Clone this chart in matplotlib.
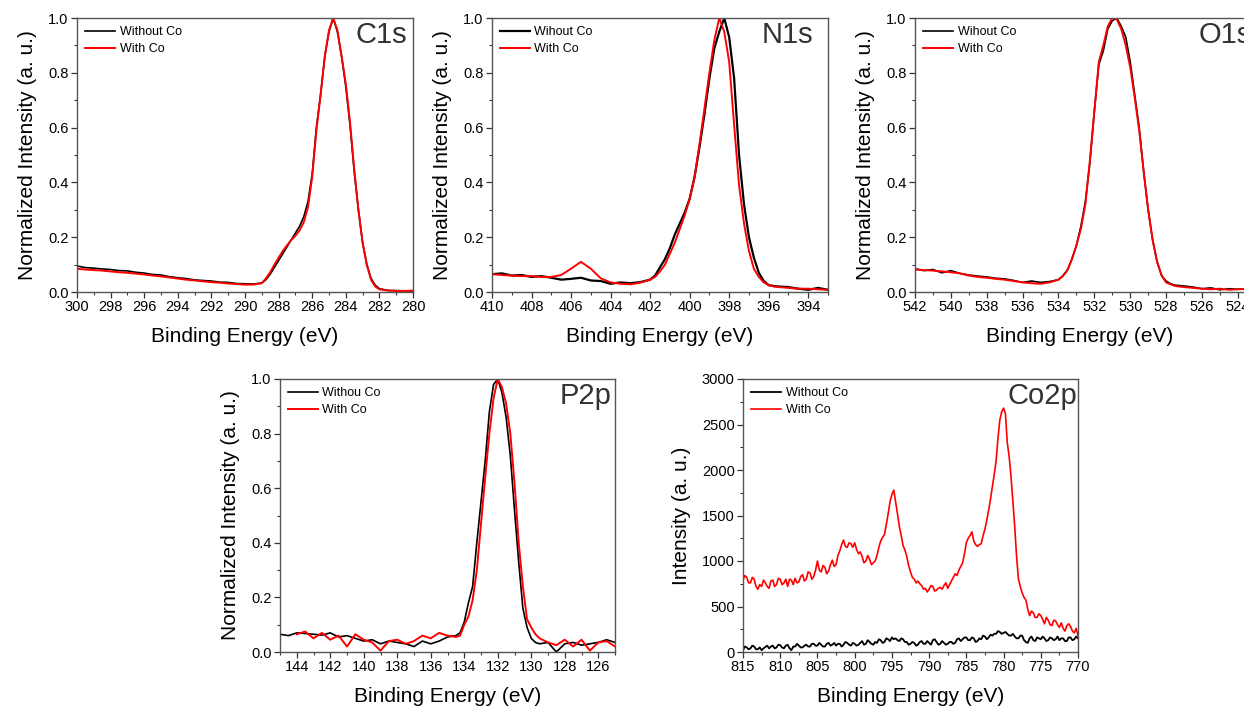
import numpy as np
import matplotlib
matplotlib.use("Agg")
import matplotlib.pyplot as plt
from matplotlib.ticker import MultipleLocator

plt.rcParams['font.family'] = ['Liberation Sans', 'DejaVu Sans']

# ---------------- C1s ----------------
c1s_be = [300, 299.5, 299, 298.5, 298, 297.5, 297, 296.5, 296, 295.5, 295, 294.5, 294, 293.5,
          293, 292.5, 292, 291.5, 291, 290.5, 290, 289.5, 289,
          288.75, 288.5, 288.25, 288, 287.75, 287.5, 287.25, 287, 286.75, 286.5, 286.25, 286,
          285.75, 285.5, 285.25, 285, 284.75, 284.5, 284.25, 284, 283.75, 283.5, 283.25, 283,
          282.75, 282.5, 282.25, 282,
          281.5, 281, 280.5, 280]
c1s_without = [0.095, 0.089, 0.087, 0.084, 0.082, 0.078, 0.077, 0.072, 0.069, 0.064, 0.062, 0.056, 0.052, 0.049,
               0.044, 0.042, 0.040, 0.036, 0.035, 0.031, 0.030, 0.029, 0.033,
               0.045, 0.065, 0.090, 0.115, 0.140, 0.165, 0.190, 0.215, 0.240, 0.275, 0.330, 0.430,
               0.600, 0.720, 0.860, 0.950, 1.000, 0.950, 0.860, 0.750, 0.610, 0.440, 0.300, 0.180,
               0.100, 0.050, 0.025, 0.012,
               0.006, 0.005, 0.004, 0.004]
c1s_with = [0.085, 0.082, 0.080, 0.078, 0.075, 0.072, 0.070, 0.067, 0.064, 0.060, 0.057, 0.053, 0.049, 0.045,
            0.042, 0.039, 0.036, 0.034, 0.031, 0.029, 0.027, 0.027, 0.032,
            0.050, 0.072, 0.100, 0.125, 0.150, 0.170, 0.190, 0.205, 0.225, 0.255, 0.310, 0.420,
            0.590, 0.720, 0.860, 0.955, 1.000, 0.955, 0.860, 0.760, 0.620, 0.450, 0.300, 0.180,
            0.100, 0.045, 0.020, 0.010,
            0.005, 0.004, 0.004, 0.005]

# ---------------- N1s ----------------
n1s_be = [410, 409.5, 409, 408.5, 408, 407.5, 407, 406.5, 406, 405.5, 405, 404.5, 404, 403.5, 403, 402.5,
          402, 401.75, 401.5, 401.25, 401, 400.75, 400.5, 400.25, 400, 399.75, 399.5, 399.25, 399,
          398.75, 398.5, 398.25, 398, 397.75, 397.5, 397.25, 397, 396.75, 396.5, 396.25, 396, 395.75, 395.5,
          395, 394.5, 394, 393.5, 393]
n1s_without = [0.065, 0.068, 0.060, 0.062, 0.055, 0.058, 0.052, 0.045, 0.048, 0.052, 0.042, 0.040, 0.030, 0.035, 0.032, 0.036,
               0.045, 0.060, 0.090, 0.120, 0.160, 0.210, 0.250, 0.290, 0.340, 0.420, 0.530, 0.650, 0.780,
               0.890, 0.950, 1.000, 0.930, 0.780, 0.500, 0.320, 0.200, 0.125, 0.070, 0.040, 0.025, 0.022, 0.020,
               0.018, 0.012, 0.008, 0.015, 0.008]
n1s_with = [0.065, 0.062, 0.060, 0.058, 0.058, 0.055, 0.055, 0.062, 0.085, 0.110, 0.085, 0.050, 0.035, 0.030, 0.028, 0.034,
            0.045, 0.055, 0.075, 0.100, 0.140, 0.180, 0.230, 0.280, 0.340, 0.420, 0.540, 0.670, 0.800,
            0.920, 1.000, 0.950, 0.840, 0.610, 0.390, 0.250, 0.150, 0.085, 0.055, 0.035, 0.025, 0.020, 0.018,
            0.015, 0.012, 0.012, 0.010, 0.008]

# ---------------- O1s ----------------
o1s_be = [542, 541.5, 541, 540.5, 540, 539.5, 539, 538.5, 538, 537.5, 537, 536.5, 536, 535.5, 535, 534.5,
          534, 533.75, 533.5, 533.25, 533, 532.75, 532.5, 532.25, 532, 531.75, 531.5, 531.25, 531,
          530.75, 530.5, 530.25, 530, 529.75, 529.5, 529.25, 529, 528.75, 528.5, 528.25, 528, 527.75, 527.5,
          527, 526.5, 526, 525.5, 525, 524.5, 524, 523.5]
o1s_without = [0.085, 0.078, 0.082, 0.070, 0.078, 0.068, 0.062, 0.058, 0.055, 0.050, 0.048, 0.042, 0.035, 0.040, 0.035, 0.038,
               0.045, 0.060, 0.080, 0.120, 0.170, 0.240, 0.330, 0.470, 0.660, 0.830, 0.880, 0.960, 0.990,
               1.000, 0.970, 0.930, 0.840, 0.720, 0.600, 0.440, 0.300, 0.190, 0.110, 0.060, 0.040, 0.030, 0.025,
               0.022, 0.018, 0.012, 0.015, 0.008, 0.012, 0.010, 0.012]
o1s_with = [0.082, 0.080, 0.078, 0.075, 0.072, 0.068, 0.060, 0.055, 0.052, 0.048, 0.045, 0.040, 0.035, 0.032, 0.030, 0.035,
            0.045, 0.058, 0.080, 0.120, 0.170, 0.230, 0.320, 0.480, 0.660, 0.840, 0.900, 0.970, 1.000,
            0.995, 0.960, 0.900, 0.820, 0.710, 0.590, 0.440, 0.300, 0.190, 0.110, 0.060, 0.035, 0.028, 0.022,
            0.018, 0.015, 0.012, 0.010, 0.012, 0.008, 0.010, 0.012]

# ---------------- P2p ----------------
p2p_be = [145, 144.5, 144, 143.5, 143, 142.5, 142, 141.5, 141, 140.5, 140, 139.5, 139, 138.5, 138, 137.5,
          137, 136.5, 136, 135.5, 135, 134.5,
          134.25, 134, 133.75, 133.5, 133.25, 133, 132.75, 132.5, 132.25, 132, 131.75, 131.5, 131.25, 131,
          130.75, 130.5, 130.25, 130, 129.75, 129.5,
          129, 128.5, 128, 127.5, 127, 126.5, 126, 125.5, 125]
p2p_without = [0.065, 0.060, 0.070, 0.068, 0.065, 0.062, 0.070, 0.055, 0.060, 0.050, 0.040, 0.045, 0.030, 0.040, 0.035, 0.030,
               0.020, 0.040, 0.030, 0.040, 0.055, 0.060,
               0.070, 0.110, 0.180, 0.240, 0.400, 0.550, 0.700, 0.880, 0.980, 1.000, 0.950, 0.860, 0.720, 0.520,
               0.330, 0.160, 0.090, 0.050, 0.035, 0.030,
               0.035, 0.000, 0.030, 0.035, 0.025, 0.030, 0.035, 0.045, 0.035]
p2p_with = [np.nan, np.nan, 0.065, 0.075, 0.050, 0.070, 0.045, 0.060, 0.020, 0.065, 0.045, 0.035, 0.005, 0.040, 0.045, 0.030,
            0.040, 0.060, 0.050, 0.070, 0.060, 0.055,
            0.060, 0.100, 0.130, 0.190, 0.300, 0.470, 0.640, 0.800, 0.930, 1.000, 0.970, 0.910, 0.800, 0.620,
            0.400, 0.240, 0.120, 0.090, 0.065, 0.050,
            0.035, 0.025, 0.045, 0.020, 0.045, 0.005, 0.035, 0.040, 0.020]

# ---------------- Co2p ----------------
co2p_be = [815, 814.75, 814.5, 814.25, 814, 813.75, 813.5, 813.25,
           813, 812.75, 812.5, 812.25, 812, 811.75, 811.5, 811.25,
           811, 810.75, 810.5, 810.25, 810, 809.75, 809.5, 809.25,
           809, 808.75, 808.5, 808.25, 808, 807.75, 807.5, 807.25,
           807, 806.75, 806.5, 806.25, 806, 805.75, 805.5, 805.25,
           805, 804.75, 804.5, 804.25, 804, 803.75, 803.5, 803.25,
           803, 802.75, 802.5, 802.25, 802, 801.75, 801.5, 801.25,
           801, 800.75, 800.5, 800.25, 800, 799.75, 799.5, 799.25,
           799, 798.75, 798.5, 798.25, 798, 797.75, 797.5, 797.25,
           797, 796.75, 796.5, 796.25, 796, 795.75, 795.5, 795.25,
           795, 794.75, 794.5, 794.25, 794, 793.75, 793.5, 793.25,
           793, 792.75, 792.5, 792.25, 792, 791.75, 791.5, 791.25,
           791, 790.75, 790.5, 790.25, 790, 789.75, 789.5, 789.25,
           789, 788.75, 788.5, 788.25, 788, 787.75, 787.5, 787.25,
           787, 786.75, 786.5, 786.25, 786, 785.75, 785.5, 785.25,
           785, 784.75, 784.5, 784.25, 784, 783.75, 783.5, 783.25,
           783, 782.75, 782.5, 782.25, 782, 781.75, 781.5, 781.25,
           781, 780.75, 780.5, 780.25, 780, 779.75, 779.5, 779.25,
           779, 778.75, 778.5, 778.25, 778, 777.75, 777.5, 777.25,
           777, 776.75, 776.5, 776.25, 776, 775.75, 775.5, 775.25,
           775, 774.75, 774.5, 774.25, 774, 773.75, 773.5, 773.25,
           773, 772.75, 772.5, 772.25, 772, 771.75, 771.5, 771.25,
           771, 770.75, 770.5, 770.25, 770]
co2p_without = [20, 60, 50, 30, 40, 70, 60, 30,
                30, 50, 20, 40, 55, 70, 40, 60,
                70, 40, 50, 80, 75, 50, 40, 70,
                80, 40, 20, 60, 60, 90, 70, 50,
                50, 70, 80, 60, 60, 90, 90, 70,
                70, 100, 80, 60, 60, 90, 100, 70,
                80, 100, 70, 90, 90, 60, 80, 110,
                100, 80, 70, 100, 90, 70, 80, 100,
                120, 80, 90, 130, 110, 90, 80, 110,
                100, 140, 130, 100, 110, 150, 140, 120,
                160, 140, 150, 130, 120, 150, 140, 110,
                110, 80, 90, 110, 100, 70, 80, 110,
                120, 90, 90, 120, 100, 80, 130, 140,
                110, 80, 90, 120, 100, 80, 90, 110,
                110, 90, 100, 140, 150, 120, 140, 160,
                160, 130, 130, 160, 150, 110, 120, 150,
                140, 180, 170, 140, 160, 190, 180, 200,
                200, 230, 220, 200, 210, 220, 200, 180,
                180, 200, 170, 150, 150, 180, 180, 130,
                110, 100, 150, 170, 130, 120, 160, 150,
                140, 170, 150, 120, 130, 160, 150, 130,
                140, 170, 130, 150, 150, 120, 120, 160,
                160, 130, 140, 170, 150]
co2p_with = [790, 840, 820, 760, 760, 820, 800, 720,
             690, 740, 720, 790, 760, 720, 700, 780,
             790, 720, 740, 810, 800, 740, 760, 800,
             720, 800, 790, 740, 810, 760, 770, 830,
             850, 780, 800, 880, 870, 800, 830, 900,
             1000, 900, 880, 950, 930, 860, 890, 960,
             1010, 940, 960, 1060, 1110, 1180, 1230, 1160,
             1150, 1200, 1190, 1150, 1200, 1130, 1080, 1100,
             1050, 980, 1000, 1060, 1020, 960, 980, 1000,
             1060, 1150, 1220, 1260, 1290, 1400, 1520, 1650,
             1730, 1780, 1650, 1520, 1380, 1280, 1170, 1120,
             1050, 950, 880, 820, 800, 760, 780, 750,
             730, 690, 700, 660, 690, 730, 720, 670,
             680, 700, 710, 690, 730, 760, 700, 740,
             780, 820, 860, 840, 900, 940, 980, 1080,
             1200, 1250, 1280, 1320, 1220, 1180, 1160, 1180,
             1190, 1280, 1350, 1450, 1560, 1680, 1820, 1950,
             2100, 2350, 2550, 2640, 2680, 2620, 2300, 2150,
             1930, 1650, 1380, 1050, 800, 720, 650, 600,
             570, 470, 400, 450, 430, 380, 380, 420,
             400, 360, 310, 380, 350, 300, 290, 350,
             340, 300, 270, 320, 260, 230, 290, 310,
             280, 230, 210, 260, 180]

panels = [
    dict(name="C1s", be=c1s_be, a=c1s_without, b=c1s_with, la="Without Co", xlim=(300, 280),
         ylim=(0, 1.0), xmaj=2, ymaj=0.2, ylabel="Normalized Intensity (a. u.)",
         rect=[77, 18, 413, 292], tx=0.982),
    dict(name="N1s", be=n1s_be, a=n1s_without, b=n1s_with, la="Wihout Co", xlim=(410, 393),
         ylim=(0, 1.0), xmaj=2, ymaj=0.2, ylabel="Normalized Intensity (a. u.)",
         rect=[492, 18, 828, 292], tx=0.955),
    dict(name="O1s", be=o1s_be, a=o1s_without, b=o1s_with, la="Wihout Co", xlim=(542, 523.6),
         ylim=(0, 1.0), xmaj=2, ymaj=0.2, ylabel="Normalized Intensity (a. u.)",
         rect=[915, 18, 1245, 292], tx=1.02),
    dict(name="P2p", be=p2p_be, a=p2p_without, b=p2p_with, la="Withou Co", xlim=(145, 125),
         ylim=(0, 1.0), xmaj=2, ymaj=0.2, ylabel="Normalized Intensity (a. u.)",
         rect=[280, 379, 615, 652], tx=0.991),
    dict(name="Co2p", be=co2p_be, a=co2p_without, b=co2p_with, la="Without Co", xlim=(815, 770),
         ylim=(0, 3000), xmaj=5, ymaj=500, ylabel="Intensity (a. u.)",
         rect=[743, 379, 1078, 652], tx=0.997),
]

W, H = 1244, 707
fig = plt.figure(figsize=(W / 100, H / 100), dpi=100)
fig.patch.set_facecolor("white")

for p in panels:
    x0, y0, x1, y1 = p["rect"]
    ax = fig.add_axes([x0 / W, 1 - y1 / H, (x1 - x0) / W, (y1 - y0) / H])
    lwa = 1.6 if p["name"] == "N1s" else (1.3 if p["name"] == "Co2p" else 1.2)
    lwb = 1.2 if p["name"] == "Co2p" else 1.4
    ax.plot(p["be"], p["a"], color="black", lw=lwa, label=p["la"])
    ax.plot(p["be"], p["b"], color="#ff0000", lw=lwb, label="With Co")
    ax.set_xlim(*p["xlim"])
    ax.set_ylim(*p["ylim"])
    ax.xaxis.set_major_locator(MultipleLocator(p["xmaj"]))
    ax.xaxis.set_minor_locator(MultipleLocator(p["xmaj"] / 2))
    ax.yaxis.set_major_locator(MultipleLocator(p["ymaj"]))
    ax.yaxis.set_minor_locator(MultipleLocator(p["ymaj"] / 2))
    if p["ymaj"] < 1:
        ax.yaxis.set_major_formatter(matplotlib.ticker.FormatStrFormatter("%.1f"))
    ax.tick_params(which="major", direction="out", length=4, width=0.9, labelsize=10.5,
                   colors="#333333", labelcolor="black", pad=2)
    ax.tick_params(which="minor", direction="out", length=2.5, width=0.8, colors="#333333")
    for s in ax.spines.values():
        s.set_color("#555555")
        s.set_linewidth(1.0)
    ax.set_xlabel("Binding Energy (eV)", fontsize=15, labelpad=9)
    ax.set_ylabel(p["ylabel"], fontsize=15, labelpad=8)
    ax.text(p["tx"], 0.91, p["name"], transform=ax.transAxes, ha="right", va="baseline",
            fontsize=21, color="#333333", clip_on=False)
    ax.legend(loc="upper left", bbox_to_anchor=(0.0, 1.0), frameon=False, fontsize=9,
              handlelength=2.4, handletextpad=0.35, labelspacing=0.4, borderaxespad=0.3,
              borderpad=0.35)

fig.savefig("out.png", dpi=100, facecolor="white")
